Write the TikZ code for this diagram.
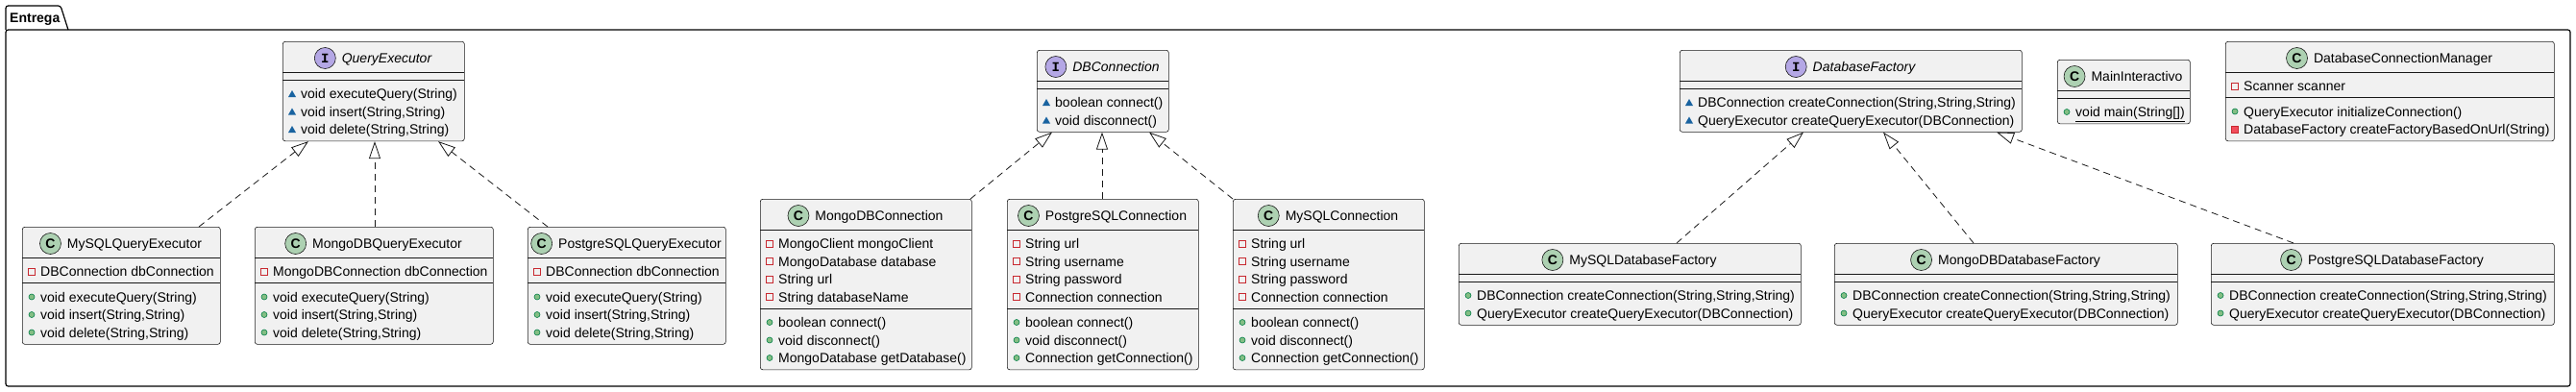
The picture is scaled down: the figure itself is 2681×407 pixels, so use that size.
\documentclass[tikz,border=0pt]{standalone}
\usepackage{fontspec}
\setmainfont{Liberation Sans}
\setmonofont{Liberation Mono}
\usepackage{tikz}
\usetikzlibrary{positioning,arrows.meta}
\definecolor{umlfill}{HTML}{F1F1F1}
\definecolor{umlline}{HTML}{181818}
\definecolor{classicon}{HTML}{ADD1B2}
\definecolor{ifaceicon}{HTML}{B4A7E5}
\definecolor{pubfill}{HTML}{84BE84}
\definecolor{publine}{HTML}{038048}
\definecolor{privline}{HTML}{C82930}
\definecolor{privfill}{HTML}{F24D5C}
\definecolor{pkgfill}{HTML}{1963A0}

\begin{document}
\begin{tikzpicture}[x=1pt, y=-1pt, font=\fontsize{14}{17}\selectfont,
	box/.style={draw=umlline, fill=umlfill, line width=0.6pt, rounded corners=2.5pt, inner sep=0, anchor=north west},
	sep/.style={draw=umlline, line width=0.6pt},
	cname/.style={inner sep=0, text height=10pt, text depth=0pt},
	iname/.style={cname, font=\fontsize{14}{17}\selectfont\itshape},
	cicon/.style={circle, draw=umlline, fill=classicon, line width=0.6pt, minimum size=22pt, inner sep=0, font=\fontsize{14}{17}\selectfont\bfseries},
	iicon/.style={cicon, fill=ifaceicon, font=\fontsize{14}{17}\selectfont\ttfamily\bfseries},
	row/.style={anchor=west, inner sep=0, text height=10pt, text depth=0pt},
	pubmark/.style={fill=pubfill, draw=publine, line width=0.6pt},
	privmark/.style={draw=privline, line width=0.8pt},
	privmmark/.style={fill=privfill, draw=privline, line width=0.8pt},
	pkgmark/.style={fill=pkgfill},
	real/.style={draw=umlline, line width=0.8pt, dash pattern=on 7pt off 5pt, -{Triangle[open, length=18pt, width=12pt]}}]
	\useasboundingbox (0,0) rectangle (2681,407);
	
	\draw[line width=1.2pt, rounded corners=2.5pt] (6,31) -- (6,6) -- (63,6) -- (71,31);
	\draw[line width=1.2pt, rounded corners=2.5pt] (6,31) -- (2675,31) -- (2675,402) -- (6,402) -- cycle;
	\node (pkg) [row, font=\fontsize{14}{17}\selectfont\bfseries] at (10,18.5) {Entrega};
	
	\node (qexec) [box, minimum width=189pt, minimum height=103.5pt] at (294,43) {};
	\node (mysqlqe) [box, minimum width=206pt, minimum height=122pt] at (23,236) {};
	\node (mongoqe) [box, minimum width=248pt, minimum height=122pt] at (265,236) {};
	\node (pgqe) [box, minimum width=206pt, minimum height=122pt] at (549,236) {};
	\node (dbconn) [box, minimum width=137pt, minimum height=85pt] at (1079,52) {};
	\node (mongoconn) [box, minimum width=220pt, minimum height=177.5pt] at (791,207) {};
	\node (pgconn) [box, minimum width=199pt, minimum height=177.5pt] at (1048,207) {};
	\node (mysqlconn) [box, minimum width=199pt, minimum height=177.5pt] at (1283,207) {};
	\node (dbfact) [box, minimum width=356pt, minimum height=85pt] at (1748,52) {};
	\node (maini) [box, minimum width=138pt, minimum height=66.5pt] at (2141,62) {};
	\node (dcm) [box, minimum width=342pt, minimum height=103.5pt] at (2316,43) {};
	\node (mysqldf) [box, minimum width=356pt, minimum height=85pt] at (1518,253) {};
	\node (mongodf) [box, minimum width=357pt, minimum height=85pt] at (1909,253) {};
	\node (pgdf) [box, minimum width=357pt, minimum height=85pt] at (2301,253) {};
	
	\draw[sep] (294,75) -- (483,75);
	\draw[sep] (294,83) -- (483,83);
	\draw[sep] (23,268) -- (229,268);
	\draw[sep] (23,294.5) -- (229,294.5);
	\draw[sep] (265,268) -- (513,268);
	\draw[sep] (265,294.5) -- (513,294.5);
	\draw[sep] (549,268) -- (755,268);
	\draw[sep] (549,294.5) -- (755,294.5);
	\draw[sep] (1079,84) -- (1216,84);
	\draw[sep] (1079,92) -- (1216,92);
	\draw[sep] (791,239) -- (1011,239);
	\draw[sep] (791,321) -- (1011,321);
	\draw[sep] (1048,239) -- (1247,239);
	\draw[sep] (1048,321) -- (1247,321);
	\draw[sep] (1283,239) -- (1482,239);
	\draw[sep] (1283,321) -- (1482,321);
	\draw[sep] (1748,84) -- (2104,84);
	\draw[sep] (1748,92) -- (2104,92);
	\draw[sep] (2141,94) -- (2279,94);
	\draw[sep] (2141,102) -- (2279,102);
	\draw[sep] (2316,75) -- (2658,75);
	\draw[sep] (2316,101.5) -- (2658,101.5);
	\draw[sep] (1518,285) -- (1874,285);
	\draw[sep] (1518,293) -- (1874,293);
	\draw[sep] (1909,285) -- (2266,285);
	\draw[sep] (1909,293) -- (2266,293);
	\draw[sep] (2301,285) -- (2658,285);
	\draw[sep] (2301,293) -- (2658,293);
	
	\draw[real] ([xshift=184pt]mysqlqe.north west) -- ([xshift=27pt]qexec.south west);
	\draw[real] ([xshift=125pt]mongoqe.north west) -- ([xshift=96pt]qexec.south west);
	\draw[real] ([xshift=21pt]pgqe.north west) -- ([xshift=162pt]qexec.south west);
	\draw[real] ([xshift=219pt]mongoconn.north west) -- ([xshift=16pt]dbconn.south west);
	\draw[real] ([xshift=99pt]pgconn.north west) -- ([xshift=68pt]dbconn.south west);
	\draw[real] (mysqlconn.north west) -- ([xshift=117pt]dbconn.south west);
	\draw[real] ([xshift=227pt]mysqldf.north west) -- ([xshift=129pt]dbfact.south west);
	\draw[real] ([xshift=145pt]mongodf.north west) -- ([xshift=212pt]dbfact.south west);
	\draw[real] ([xshift=86pt]pgdf.north west) -- ([xshift=330pt]dbfact.south west);
	
	\node (qexecN) [iname] at (402.5,60.5) {QueryExecutor};
	\node (qexecI) [iicon, left=6pt of qexecN] {I};
	\fill[pkgmark] (304,97.5) +(-4,3.5) -- +(4,3.5) -- +(0,-3.5) -- cycle;
	\fill[pkgmark] (304,116) +(-4,3.5) -- +(4,3.5) -- +(0,-3.5) -- cycle;
	\fill[pkgmark] (304,134.5) +(-4,3.5) -- +(4,3.5) -- +(0,-3.5) -- cycle;
	\node (qexec1) [row] at (313,97.5) {void executeQuery(String)};
	\node (qexec2) [row] at (313,116) {void insert(String,String)};
	\node (qexec3) [row] at (313,134.5) {void delete(String,String)};
	
	\node (mysqlqeN) [cname] at (140,253.5) {MySQLQueryExecutor};
	\node (mysqlqeI) [cicon, left=6pt of mysqlqeN] {C};
	\draw[privmark] (33,282.5) +(-3.5,-3.5) rectangle +(3.5,3.5);
	\filldraw[pubmark] (33,309) circle[radius=3pt];
	\filldraw[pubmark] (33,327.5) circle[radius=3pt];
	\filldraw[pubmark] (33,346) circle[radius=3pt];
	\node (mysqlqe1) [row] at (42,282.5) {DBConnection dbConnection};
	\node (mysqlqe2) [row] at (42,309) {void executeQuery(String)};
	\node (mysqlqe3) [row] at (42,327.5) {void insert(String,String)};
	\node (mysqlqe4) [row] at (42,346) {void delete(String,String)};
	
	\node (mongoqeN) [cname] at (403,253.5) {MongoDBQueryExecutor};
	\node (mongoqeI) [cicon, left=6pt of mongoqeN] {C};
	\draw[privmark] (275,282.5) +(-3.5,-3.5) rectangle +(3.5,3.5);
	\filldraw[pubmark] (275,309) circle[radius=3pt];
	\filldraw[pubmark] (275,327.5) circle[radius=3pt];
	\filldraw[pubmark] (275,346) circle[radius=3pt];
	\node (mongoqe1) [row] at (284,282.5) {MongoDBConnection dbConnection};
	\node (mongoqe2) [row] at (284,309) {void executeQuery(String)};
	\node (mongoqe3) [row] at (284,327.5) {void insert(String,String)};
	\node (mongoqe4) [row] at (284,346) {void delete(String,String)};
	
	\node (pgqeN) [cname] at (666,253.5) {PostgreSQLQueryExecutor};
	\node (pgqeI) [cicon, left=6pt of pgqeN] {C};
	\draw[privmark] (559,282.5) +(-3.5,-3.5) rectangle +(3.5,3.5);
	\filldraw[pubmark] (559,309) circle[radius=3pt];
	\filldraw[pubmark] (559,327.5) circle[radius=3pt];
	\filldraw[pubmark] (559,346) circle[radius=3pt];
	\node (pgqe1) [row] at (568,282.5) {DBConnection dbConnection};
	\node (pgqe2) [row] at (568,309) {void executeQuery(String)};
	\node (pgqe3) [row] at (568,327.5) {void insert(String,String)};
	\node (pgqe4) [row] at (568,346) {void delete(String,String)};
	
	\node (dbconnN) [iname] at (1161.5,69.5) {DBConnection};
	\node (dbconnI) [iicon, left=6pt of dbconnN] {I};
	\fill[pkgmark] (1089,106.5) +(-4,3.5) -- +(4,3.5) -- +(0,-3.5) -- cycle;
	\fill[pkgmark] (1089,125) +(-4,3.5) -- +(4,3.5) -- +(0,-3.5) -- cycle;
	\node (dbconn1) [row] at (1098,106.5) {boolean connect()};
	\node (dbconn2) [row] at (1098,125) {void disconnect()};
	
	\node (mongoconnN) [cname] at (915,224.5) {MongoDBConnection};
	\node (mongoconnI) [cicon, left=6pt of mongoconnN] {C};
	\draw[privmark] (801,253.5) +(-3.5,-3.5) rectangle +(3.5,3.5);
	\draw[privmark] (801,272) +(-3.5,-3.5) rectangle +(3.5,3.5);
	\draw[privmark] (801,290.5) +(-3.5,-3.5) rectangle +(3.5,3.5);
	\draw[privmark] (801,309) +(-3.5,-3.5) rectangle +(3.5,3.5);
	\filldraw[pubmark] (801,335.5) circle[radius=3pt];
	\filldraw[pubmark] (801,354) circle[radius=3pt];
	\filldraw[pubmark] (801,372.5) circle[radius=3pt];
	\node (mongoconn1) [row] at (810,253.5) {MongoClient mongoClient};
	\node (mongoconn2) [row] at (810,272) {MongoDatabase database};
	\node (mongoconn3) [row] at (810,290.5) {String url};
	\node (mongoconn4) [row] at (810,309) {String databaseName};
	\node (mongoconn5) [row] at (810,335.5) {boolean connect()};
	\node (mongoconn6) [row] at (810,354) {void disconnect()};
	\node (mongoconn7) [row] at (810,372.5) {MongoDatabase getDatabase()};
	
	\node (pgconnN) [cname] at (1161.5,224.5) {PostgreSQLConnection};
	\node (pgconnI) [cicon, left=6pt of pgconnN] {C};
	\draw[privmark] (1058,253.5) +(-3.5,-3.5) rectangle +(3.5,3.5);
	\draw[privmark] (1058,272) +(-3.5,-3.5) rectangle +(3.5,3.5);
	\draw[privmark] (1058,290.5) +(-3.5,-3.5) rectangle +(3.5,3.5);
	\draw[privmark] (1058,309) +(-3.5,-3.5) rectangle +(3.5,3.5);
	\filldraw[pubmark] (1058,335.5) circle[radius=3pt];
	\filldraw[pubmark] (1058,354) circle[radius=3pt];
	\filldraw[pubmark] (1058,372.5) circle[radius=3pt];
	\node (pgconn1) [row] at (1067,253.5) {String url};
	\node (pgconn2) [row] at (1067,272) {String username};
	\node (pgconn3) [row] at (1067,290.5) {String password};
	\node (pgconn4) [row] at (1067,309) {Connection connection};
	\node (pgconn5) [row] at (1067,335.5) {boolean connect()};
	\node (pgconn6) [row] at (1067,354) {void disconnect()};
	\node (pgconn7) [row] at (1067,372.5) {Connection getConnection()};
	
	\node (mysqlconnN) [cname] at (1396.5,224.5) {MySQLConnection};
	\node (mysqlconnI) [cicon, left=6pt of mysqlconnN] {C};
	\draw[privmark] (1293,253.5) +(-3.5,-3.5) rectangle +(3.5,3.5);
	\draw[privmark] (1293,272) +(-3.5,-3.5) rectangle +(3.5,3.5);
	\draw[privmark] (1293,290.5) +(-3.5,-3.5) rectangle +(3.5,3.5);
	\draw[privmark] (1293,309) +(-3.5,-3.5) rectangle +(3.5,3.5);
	\filldraw[pubmark] (1293,335.5) circle[radius=3pt];
	\filldraw[pubmark] (1293,354) circle[radius=3pt];
	\filldraw[pubmark] (1293,372.5) circle[radius=3pt];
	\node (mysqlconn1) [row] at (1302,253.5) {String url};
	\node (mysqlconn2) [row] at (1302,272) {String username};
	\node (mysqlconn3) [row] at (1302,290.5) {String password};
	\node (mysqlconn4) [row] at (1302,309) {Connection connection};
	\node (mysqlconn5) [row] at (1302,335.5) {boolean connect()};
	\node (mysqlconn6) [row] at (1302,354) {void disconnect()};
	\node (mysqlconn7) [row] at (1302,372.5) {Connection getConnection()};
	
	\node (dbfactN) [iname] at (1940,69.5) {DatabaseFactory};
	\node (dbfactI) [iicon, left=6pt of dbfactN] {I};
	\fill[pkgmark] (1758,106.5) +(-4,3.5) -- +(4,3.5) -- +(0,-3.5) -- cycle;
	\fill[pkgmark] (1758,125) +(-4,3.5) -- +(4,3.5) -- +(0,-3.5) -- cycle;
	\node (dbfact1) [row] at (1767,106.5) {DBConnection createConnection(String,String,String)};
	\node (dbfact2) [row] at (1767,125) {QueryExecutor createQueryExecutor(DBConnection)};
	
	\node (mainiN) [cname] at (2224,79.5) {MainInteractivo};
	\node (mainiI) [cicon, left=6pt of mainiN] {C};
	\filldraw[pubmark] (2151,116.5) circle[radius=3pt];
	\node (maini1) [row] at (2160,116.5) {\underline{void main(String[])}};
	
	\node (dcmN) [cname] at (2501,60.5) {DatabaseConnectionManager};
	\node (dcmI) [cicon, left=6pt of dcmN] {C};
	\draw[privmark] (2326,89.5) +(-3.5,-3.5) rectangle +(3.5,3.5);
	\filldraw[pubmark] (2326,116) circle[radius=3pt];
	\filldraw[privmmark] (2326,134.5) +(-3.5,-3.5) rectangle +(3.5,3.5);
	\node (dcm1) [row] at (2335,89.5) {Scanner scanner};
	\node (dcm2) [row] at (2335,116) {QueryExecutor initializeConnection()};
	\node (dcm3) [row] at (2335,134.5) {DatabaseFactory createFactoryBasedOnUrl(String)};
	
	\node (mysqldfN) [cname] at (1710,270.5) {MySQLDatabaseFactory};
	\node (mysqldfI) [cicon, left=6pt of mysqldfN] {C};
	\filldraw[pubmark] (1528,307.5) circle[radius=3pt];
	\filldraw[pubmark] (1528,326) circle[radius=3pt];
	\node (mysqldf1) [row] at (1537,307.5) {DBConnection createConnection(String,String,String)};
	\node (mysqldf2) [row] at (1537,326) {QueryExecutor createQueryExecutor(DBConnection)};
	
	\node (mongodfN) [cname] at (2101.5,270.5) {MongoDBDatabaseFactory};
	\node (mongodfI) [cicon, left=6pt of mongodfN] {C};
	\filldraw[pubmark] (1919,307.5) circle[radius=3pt];
	\filldraw[pubmark] (1919,326) circle[radius=3pt];
	\node (mongodf1) [row] at (1928,307.5) {DBConnection createConnection(String,String,String)};
	\node (mongodf2) [row] at (1928,326) {QueryExecutor createQueryExecutor(DBConnection)};
	
	\node (pgdfN) [cname] at (2493.5,270.5) {PostgreSQLDatabaseFactory};
	\node (pgdfI) [cicon, left=6pt of pgdfN] {C};
	\filldraw[pubmark] (2311,307.5) circle[radius=3pt];
	\filldraw[pubmark] (2311,326) circle[radius=3pt];
	\node (pgdf1) [row] at (2320,307.5) {DBConnection createConnection(String,String,String)};
	\node (pgdf2) [row] at (2320,326) {QueryExecutor createQueryExecutor(DBConnection)};
	
\end{tikzpicture}
\end{document}
